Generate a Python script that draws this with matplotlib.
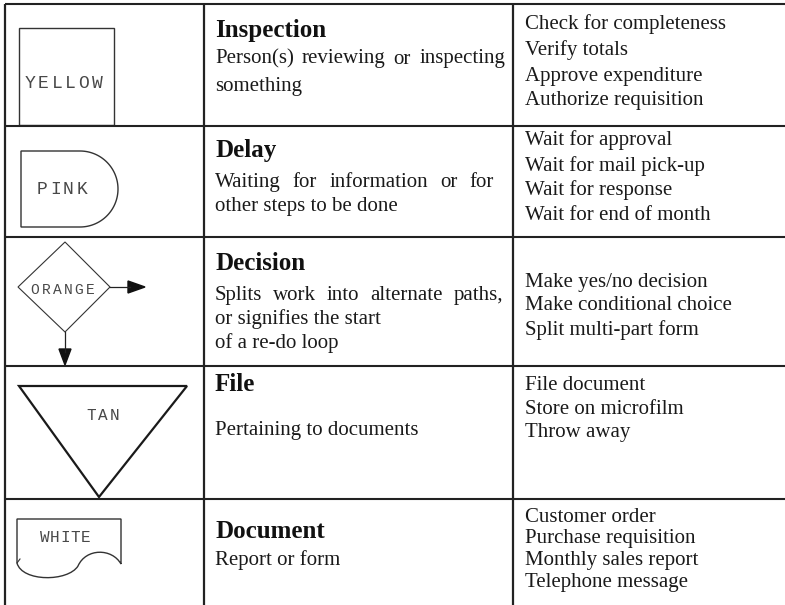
import numpy as np
import matplotlib
matplotlib.use("Agg")
import matplotlib.pyplot as plt
from matplotlib.path import Path
from matplotlib.patches import PathPatch, Polygon

# table content
symbol_labels = ["YELLOW", "PINK", "ORANGE", "TAN", "WHITE"]
titles = ["Inspection", "Delay", "Decision", "File", "Document"]
descriptions = [
    ["Person(s) reviewing or inspecting", "something"],
    ["Waiting for information or for", "other steps to be done"],
    ["Splits work into alternate paths,", "or signifies the start", "of a re-do loop"],
    ["Pertaining to documents"],
    ["Report or form"],
]
examples = [
    ["Check for completeness", "Verify totals", "Approve expenditure", "Authorize requisition"],
    ["Wait for approval", "Wait for mail pick-up", "Wait for response", "Wait for end of month"],
    ["Make yes/no decision", "Make conditional choice", "Split multi-part form"],
    ["File document", "Store on microfilm", "Throw away"],
    ["Customer order", "Purchase requisition", "Monthly sales report", "Telephone message"],
]

# layout (pixels, y down)
row_lines = [4, 126, 237, 366, 499]
col_lines = [5, 204, 513]
title_base = [37, 157, 270, 391, 538]
desc_base = [[63.5, 90.5], [187, 211.5], [300, 324, 348], [434.5], [565.5]]
ex_base = [[28.5, 54.5, 80.5, 105.5], [145.5, 170.5, 194.5, 219.5],
           [286.5, 310.5, 334.5], [389.5, 413.5, 437.5], [521.5, 543.5, 565.5, 587.5]]
justify_to = {0: 505, 1: 494, 2: 503}

SERIF = "Liberation Serif"
MONO = "Liberation Mono"
INK = "#1a1a1a"
LINE = "#222222"
BODY = 15

fig = plt.figure(figsize=(7.85, 6.05), dpi=100)
ax = fig.add_axes([0, 0, 1, 1])
ax.set_xlim(0, 785)
ax.set_ylim(605, 0)
ax.axis("off")

# grid
for y in row_lines:
    ax.plot([5, 785], [y, y], color=LINE, lw=1.5, solid_capstyle="butt")
for x in col_lines:
    ax.plot([x, x], [4, 605], color=LINE, lw=1.6, solid_capstyle="butt")


def spaced(x, y, s, size, pitch):
    x0 = x - pitch * (len(s) - 1) / 2
    for i, ch in enumerate(s):
        ax.text(x0 + i * pitch, y, ch, family=MONO, fontsize=size, color="#484848",
                ha="center", va="center")


# symbols
sym = dict(fill=False, edgecolor="#333333", lw=1.0)
ax.add_patch(Polygon([(19, 28), (114, 28), (114, 125), (19, 125)], closed=True, **sym))
spaced(63.5, 83, symbol_labels[0], 13, 13.4)

t = np.linspace(-np.pi / 2, np.pi / 2, 60)
d_pts = [(21, 151), (80, 151)] + list(zip(80 + 38 * np.cos(t), 189 + 38 * np.sin(t))) + [(21, 227)]
ax.add_patch(Polygon(d_pts, closed=True, **sym))
spaced(62, 189, symbol_labels[1], 13, 13)

ax.add_patch(Polygon([(65, 242), (110, 287), (65, 332), (18, 287)], closed=True,
                     fill=False, edgecolor="#333333", lw=0.8))
spaced(62.5, 289.5, symbol_labels[2], 10.5, 11)
ax.plot([110, 130], [287, 287], color="#222222", lw=0.9)
ax.add_patch(Polygon([(128, 281), (128, 293), (145, 287)], closed=True, color="#111111"))
ax.plot([65, 65], [332, 352], color="#222222", lw=0.9)
ax.add_patch(Polygon([(59, 349), (71, 349), (65, 365)], closed=True, color="#111111"))

ax.add_patch(Polygon([(19, 386), (187, 386), (99, 497)], closed=True,
                     fill=False, edgecolor="#1a1a1a", lw=1.6))
spaced(103, 416, symbol_labels[3], 11.5, 11.5)

doc = Path([(17, 563), (17, 519), (121, 519), (121, 564),
            (112, 548), (86, 548), (78, 566),
            (68, 582), (22, 582), (17, 563)],
           [Path.MOVETO, Path.LINETO, Path.LINETO, Path.LINETO,
            Path.CURVE4, Path.CURVE4, Path.CURVE4,
            Path.CURVE4, Path.CURVE4, Path.CURVE4])
ax.add_patch(PathPatch(doc, **sym))
ax.plot([17, 20], [563, 559], color="#333333", lw=0.8)
spaced(65, 538, symbol_labels[4], 11.5, 10.3)

# text columns
fig.canvas.draw()
r = fig.canvas.get_renderer()


def justify(x0, x1, y, line):
    words = line.split()
    arts = [ax.text(0, y, w, family=SERIF, fontsize=BODY, color=INK, va="baseline") for w in words]
    widths = [a.get_window_extent(r).width for a in arts]
    gap = (x1 - x0 - sum(widths)) / (len(words) - 1)
    x = x0
    for a, w in zip(arts, widths):
        a.set_x(x)
        x += w + gap


for i in range(len(titles)):
    ax.text(215, title_base[i], titles[i], family=SERIF, fontsize=18, fontweight="bold",
            color="#111111", va="baseline")
    for j, line in enumerate(descriptions[i]):
        if j == 0 and i in justify_to:
            justify(215, justify_to[i], desc_base[i][j], line)
        else:
            ax.text(215, desc_base[i][j], line, family=SERIF, fontsize=BODY, color=INK, va="baseline")
    for j, line in enumerate(examples[i]):
        ax.text(525, ex_base[i][j], line, family=SERIF, fontsize=BODY, color=INK, va="baseline")

fig.savefig("out.png", dpi=100)
